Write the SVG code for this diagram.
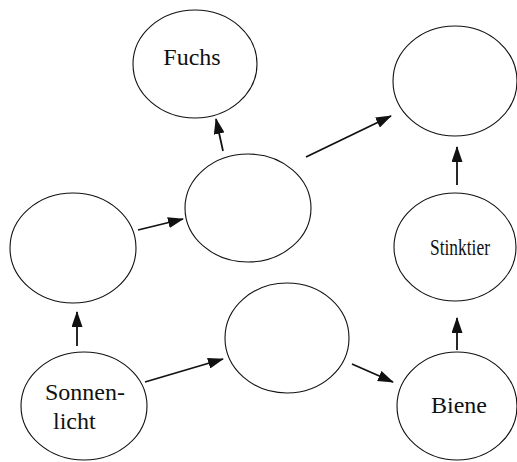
<svg xmlns="http://www.w3.org/2000/svg" width="517" height="462" viewBox="0 0 517 462">
<style>
.n{fill:#fff;stroke:#111;stroke-width:1.1}
.t{font-family:"Liberation Serif","Times New Roman",serif;font-size:24px;fill:#111}
.c line{stroke:#111;stroke-width:1.8}
</style>
<defs>
<marker id="ah" markerWidth="16" markerHeight="11" refX="15" refY="5.5" orient="auto" markerUnits="userSpaceOnUse">
<path d="M0,0 L16,5.5 L0,11 Z" fill="#111"/>
</marker>
</defs>
<rect width="517" height="462" fill="#fff"/>
<g id="fuchs"><ellipse class="n" cx="195" cy="64" rx="62" ry="54"/><text class="t" x="192" y="65" text-anchor="middle">Fuchs</text></g>
<g id="topright"><ellipse class="n" cx="455" cy="81" rx="62" ry="55"/></g>
<g id="middle"><ellipse class="n" cx="248" cy="208" rx="63" ry="54"/></g>
<g id="left"><ellipse class="n" cx="73" cy="248" rx="63" ry="55"/></g>
<g id="stinktier"><ellipse class="n" cx="455" cy="247" rx="61" ry="54"/><text class="t" x="430" y="255" font-size="25" textLength="60" lengthAdjust="spacingAndGlyphs">Stinktier</text></g>
<g id="lowermiddle"><ellipse class="n" cx="287" cy="338" rx="62" ry="55"/></g>
<g id="sonnenlicht"><ellipse class="n" cx="84" cy="406" rx="63" ry="54"/><text class="t" x="45" y="400">Sonnen-</text><text class="t" x="53" y="429">licht</text></g>
<g id="biene"><ellipse class="n" cx="457" cy="406" rx="60" ry="54"/><text class="t" x="459" y="413" text-anchor="middle">Biene</text></g>
<g id="connectors" class="c">
<line x1="77" y1="346" x2="77" y2="312" marker-end="url(#ah)"/>
<line x1="138" y1="230" x2="183" y2="219" marker-end="url(#ah)"/>
<line x1="223" y1="151" x2="216" y2="119" marker-end="url(#ah)"/>
<line x1="306" y1="157" x2="391" y2="116" marker-end="url(#ah)"/>
<line x1="145" y1="382" x2="223" y2="359" marker-end="url(#ah)"/>
<line x1="352" y1="364" x2="393" y2="382" marker-end="url(#ah)"/>
<line x1="457" y1="350" x2="457" y2="318" marker-end="url(#ah)"/>
<line x1="457" y1="185" x2="457" y2="147" marker-end="url(#ah)"/>
</g>
</svg>
